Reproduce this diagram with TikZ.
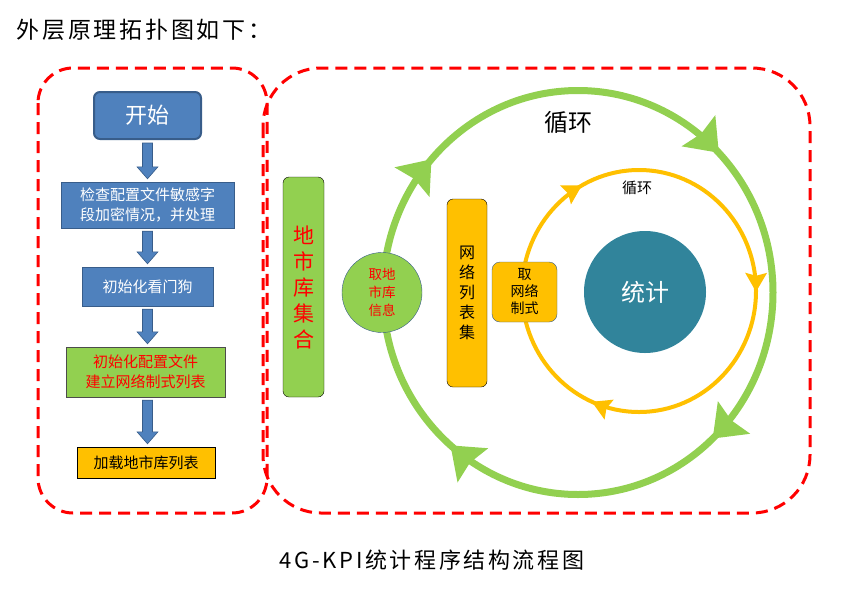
\documentclass[tikz,border=0pt]{standalone}
\usepackage{fontspec}
\setmainfont{Noto Sans CJK SC}
\newfontfamily\spacedfont[LetterSpace=12]{Noto Sans CJK SC}
\usetikzlibrary{calc}
\usetikzlibrary{arrows.meta}
\usetikzlibrary{decorations.markings}
\definecolor{boxblue}{HTML}{4F81BD}
\definecolor{boxedge}{HTML}{385D8A}
\definecolor{lgreen}{HTML}{92D050}
\definecolor{lorange}{HTML}{FFC000}
\definecolor{statblue}{HTML}{31849B}
\newcommand{\pxfont}[2]{\fontsize{#1}{#2}\selectfont}
\tikzset{frame/.style={draw=red, line width=3pt, dash pattern=on 12pt off 7pt, rounded corners=#1}}
\tikzset{flow/.style={rectangle, draw=boxedge, fill=boxblue, text=white, inner sep=0pt, align=center, font=\pxfont{15}{20}}}
\tikzset{blockarrow/.style={draw=boxedge, fill=boxblue, line width=0.6pt, to path={
   let \p1=(\tikztostart), \p2=(\tikztotarget) in
   (\x1-5pt,\y1-3pt) -- (\x1+5pt,\y1-3pt) -- (\x1+5pt,\y2+15pt) -- (\x1+10.5pt,\y2+15pt)
   -- (\x1,\y2+3pt) -- (\x1-10.5pt,\y2+15pt) -- (\x1-5pt,\y2+15pt) -- cycle}}}
\tikzset{tall/.style={rectangle, rounded corners=6pt, draw=black, inner sep=0pt, align=center}}
\tikzset{bighead/.tip={Stealth[length=30pt, width=46pt, inset=4pt, line width=0pt]}}
\tikzset{smallhead/.tip={Stealth[length=19pt, width=22pt, inset=3pt, line width=0pt]}}
\tikzset{bigloop/.style={draw=lgreen, line width=7pt, postaction={decorate}, decoration={markings,
   mark=at position 0.130 with {\arrow{bighead}},
   mark=at position 0.362 with {\arrow{bighead}},
   mark=at position 0.616 with {\arrow{bighead}},
   mark=at position 0.877 with {\arrow{bighead}}}}}
\tikzset{smallloop/.style={draw=lorange, line width=4pt, postaction={decorate}, decoration={markings,
   mark=at position 0.251 with {\arrow{smallhead}},
   mark=at position 0.565 with {\arrow{smallhead}},
   mark=at position 0.920 with {\arrow{smallhead}}}}}
\begin{document}
\begin{tikzpicture}[x=1pt, y=1pt]

    \useasboundingbox (0,0) rectangle (841,-598);

    \node[anchor=west, font=\spacedfont\pxfont{23}{28}] (title) at (13,-30) {外层原理拓扑图如下：};
    \node[font=\spacedfont\pxfont{22}{26}] (caption) at (432,-560) {4G-KPI统计程序结构流程图};

    \draw[frame=35pt] (38,-68) rectangle (267,-513);
    \draw[frame=58pt] (263,-68) rectangle (810,-513);

    % left: start-up steps
    \node[flow, rounded corners=6pt, line width=2pt, minimum width=107pt, minimum height=47pt,
          font=\pxfont{22}{26}] (start) at (147.5,-115.5) {开始};
    \node[flow, minimum width=173pt, minimum height=46pt] (check) at (147.5,-205)
          {检查配置文件敏感字\\段加密情况，并处理};
    \node[flow, minimum width=131pt, minimum height=39pt] (dog) at (147.5,-286.5) {初始化看门狗};
    \node[flow, fill=lgreen, draw=black!70, text=red, minimum width=159pt, minimum height=50pt]
          (init) at (145.5,-372) {初始化配置文件\\建立网络制式列表};
    \node[flow, fill=lorange, draw=black, text=black, minimum width=138pt, minimum height=31pt]
          (load) at (146,-462.5) {加载地市库列表};

    \draw[blockarrow] (start.south) to (check.north);
    \draw[blockarrow] (check.south) to (dog.north);
    \draw[blockarrow] (dog.south)   to (init.north);
    \draw[blockarrow] ([xshift=2pt]init.south) to (load.north);

    % right: the two loops
    \draw[bigloop] (578,-292.5) ++(195,0) arc[start angle=0, end angle=-360, x radius=195, y radius=202];
    \draw[smallloop] (639,-291) ++(0,121) arc[start angle=90, end angle=-270, x radius=117, y radius=121];

    \node[font=\pxfont{24}{28}] (outerlabel) at (568,-122) {循环};
    \node[font=\pxfont{15}{18}] (innerlabel) at (637,-188) {循环};

    \node[tall, fill=lgreen, text=red, minimum width=41pt, minimum height=220pt, font=\pxfont{21}{26}]
          (cityset) at (303.5,-287) {地\\市\\库\\集\\合};
    \node[circle, draw=boxedge, fill=lgreen, text=red, minimum size=80pt, inner sep=0pt, align=center,
          font=\pxfont{13.5}{18}] (getcity) at (382,-292.5) {取地\\市库\\信息};
    \node[tall, fill=lorange, minimum width=40pt, minimum height=188pt, font=\pxfont{16}{20}]
          (netset) at (467,-293) {网\\络\\列\\表\\集};
    \node[tall, rounded corners=8pt, draw=boxedge, fill=lorange, minimum width=65pt, minimum height=60pt,
          font=\pxfont{14}{17}] (getnet) at (524.5,-292) {取\\网络\\制式};
    \node[circle, fill=statblue, text=white, minimum size=122pt, font=\pxfont{24}{28}]
          (stat) at (645,-292) {统计};

  \end{tikzpicture}
\end{document}
